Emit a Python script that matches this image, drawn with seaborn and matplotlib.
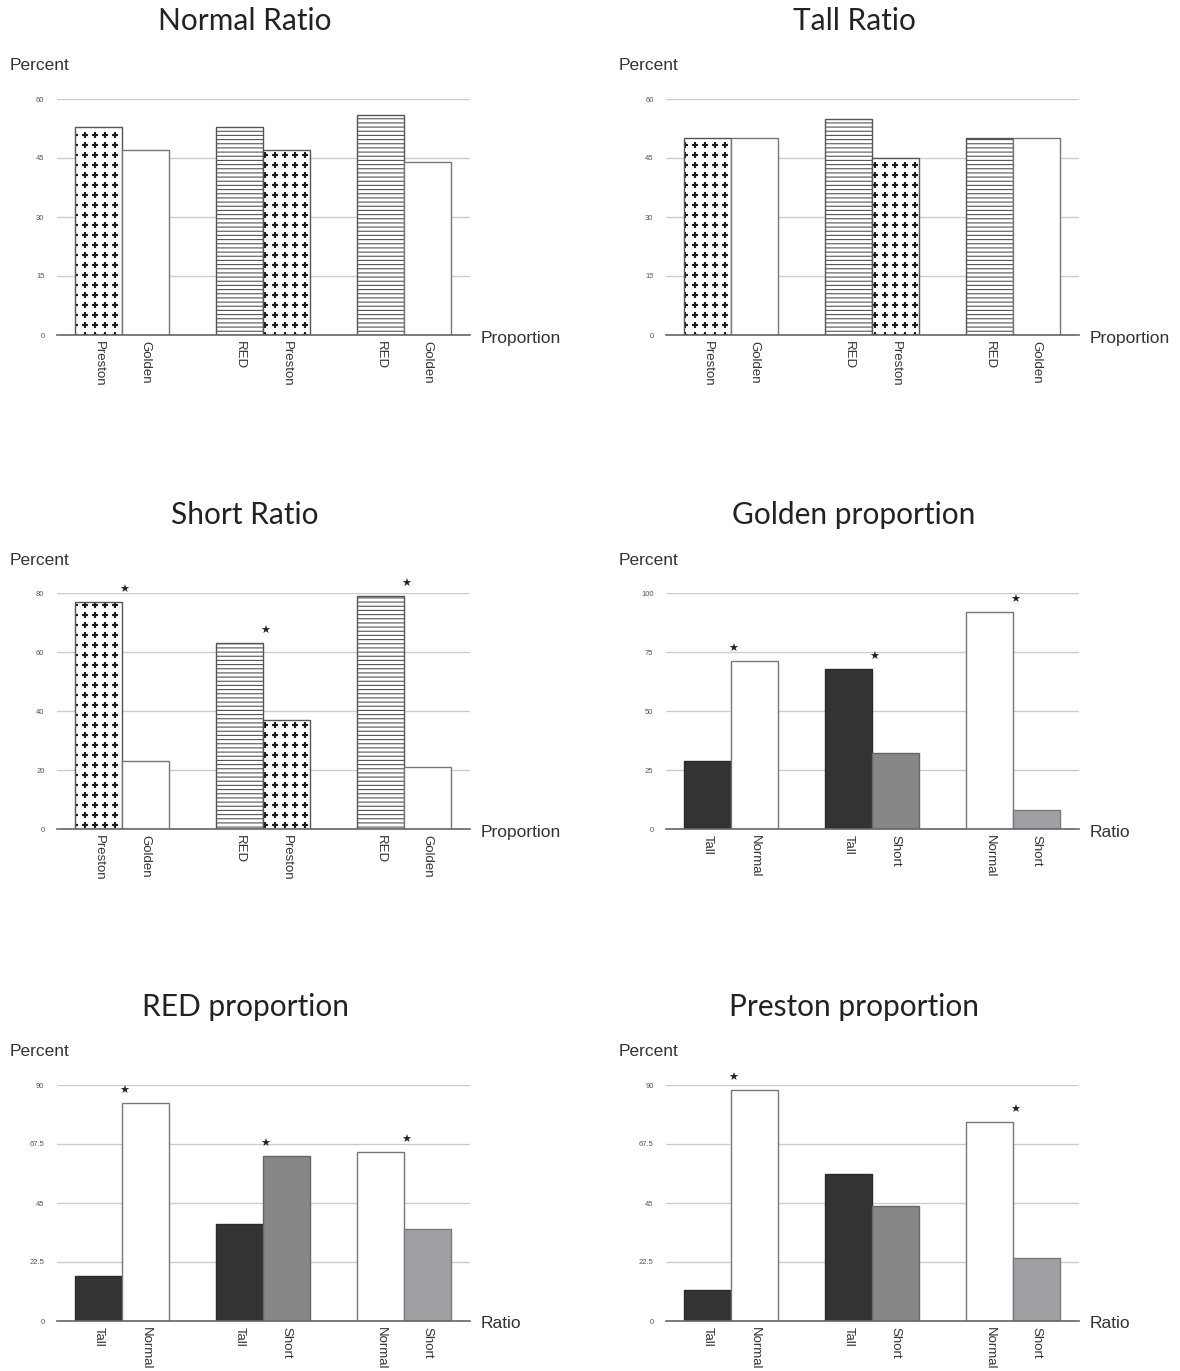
import numpy as np
import matplotlib
matplotlib.use("Agg")
import matplotlib.pyplot as plt
import matplotlib.hatch as mhatch
from matplotlib.path import Path
import seaborn as sns

# -----------------------------
# DATA
# -----------------------------
positions = [0, 1, 3, 4, 6, 7]

normal_labels = ["Preston", "Golden", "RED", "Preston", "RED", "Golden"]
normal_values = [53, 47, 53, 47, 56, 44]

tall_labels = ["Preston", "Golden", "RED", "Preston", "RED", "Golden"]
tall_values = [50, 50, 55, 45, 50, 50]

short_labels = ["Preston", "Golden", "RED", "Preston", "RED", "Golden"]
short_values = [77, 23, 63, 37, 79, 21]
short_stars = [True, True, True]

golden_labels = ["Tall", "Normal", "Tall", "Short", "Normal", "Short"]
golden_values = [29, 71, 68, 32, 92, 8]
golden_stars = [True, True, True]

red_labels = ["Tall", "Normal", "Tall", "Short", "Normal", "Short"]
red_values = [17, 83, 37, 63, 64.5, 35]
red_stars = [True, True, True]

preston_labels = ["Tall", "Normal", "Tall", "Short", "Normal", "Short"]
preston_values = [12, 88, 56, 44, 76, 24]
preston_stars = [True, False, True]


# -----------------------------
# plus-sign hatch (replaces the '*' star hatch)
# -----------------------------
class PlusHatch(mhatch.HatchPatternBase):
    def __init__(self, hatch, density):
        self.n = hatch.count('*') * 10
        a, b = 0.24, 0.05
        self.shape = np.array([(-b, -a), (b, -a), (b, -b), (a, -b), (a, b), (b, b),
                               (b, a), (-b, a), (-b, b), (-a, b), (-a, -b), (-b, -b),
                               (-b, -a)])
        self.num_vertices = self.n * self.n * len(self.shape)

    def set_vertices_and_codes(self, vertices, codes):
        n = self.n
        step = 1.0 / n
        verts = self.shape * step
        k = len(verts)
        c = 0
        for i in range(n):
            for j in range(n):
                vertices[c:c + k] = verts + [(i + 0.5) * step, (j + 0.5) * step]
                codes[c] = Path.MOVETO
                codes[c + 1:c + k - 1] = Path.LINETO
                codes[c + k - 1] = Path.CLOSEPOLY
                c += k


mhatch._hatch_types = [h for h in mhatch._hatch_types if h is not mhatch.Stars]
mhatch._hatch_types.append(PlusHatch)

sns.set_style("white")
plt.rcParams['font.family'] = ['Liberation Sans', 'DejaVu Sans']
plt.rcParams['hatch.linewidth'] = 0.8


def bar_style(label, i):
    # face, edge, hatch, hatch colour
    if label == "Preston":
        return "white", "#555555", "*", "#1a1a1a"
    if label == "RED":
        return "white", "#555555", "----", "#555555"
    if label in ("Golden", "Normal"):
        return "white", "#777777", None, None
    if label == "Tall":
        return "#333333", "#2a2a2a", None, None
    if label == "Short":
        if i >= 4:
            return "#a0a0a4", "#7a7a7a", None, None
        return "#87878a", "#666666", None, None
    return "white", "#777777", None, None


def draw_panel(ax, title, labels, values, ymax, yticks, xname, stars=None):
    sns.barplot(x=positions, y=values, native_scale=True, width=1,
                color="white", ax=ax, zorder=3)
    for i, patch in enumerate(ax.patches):
        face, edge, hatch, hcol = bar_style(labels[i], i)
        patch.set_facecolor(face)
        patch.set_edgecolor(edge)
        patch.set_linewidth(1.0)
        if hatch:
            patch.set_hatch(hatch)
            patch._hatch_color = matplotlib.colors.to_rgba(hcol)

    ax.set_xlim(-0.88, 7.9)
    ax.set_ylim(0, ymax)
    ax.set_yticks(yticks)
    ax.set_yticklabels([f"{t:g}" for t in yticks], fontsize=5.5, color="#555555")
    ax.set_xticks(positions)
    ax.set_xticklabels(labels, rotation=270, fontsize=9.5, color="#333333")
    ax.tick_params(axis="both", length=0)
    ax.tick_params(axis="y", pad=9)
    ax.tick_params(axis="x", pad=4)
    ax.grid(axis="y", color="#cccccc", linewidth=1)
    ax.set_axisbelow(True)
    for side in ["top", "right", "left"]:
        ax.spines[side].set_visible(False)
    ax.spines["bottom"].set_color("#666666")
    ax.spines["bottom"].set_linewidth(1.2)
    ax.spines["bottom"].set_zorder(4)
    ax.set_xlabel("")
    ax.set_ylabel("")

    ax.annotate(title, xy=(0, 1), xycoords="axes fraction", xytext=(188, 78),
                textcoords="offset pixels", ha="center", va="center",
                fontsize=21.5, family="Lato", color="#222222")
    ax.annotate("Percent", xy=(0, 1), xycoords="axes fraction", xytext=(-47, 33),
                textcoords="offset pixels", ha="left", va="center",
                fontsize=12.5, color="#333333")
    ax.annotate(xname, xy=(1, 0), xycoords="axes fraction", xytext=(11, -3),
                textcoords="offset pixels", ha="left", va="center",
                fontsize=12.5, color="#333333")

    if stars:
        for g, flag in enumerate(stars):
            if not flag:
                continue
            top = max(values[2 * g], values[2 * g + 1])
            ax.annotate("\u2605", xy=(positions[2 * g] + 0.55, top), xytext=(0, 7),
                        textcoords="offset pixels", ha="center", va="bottom",
                        fontsize=8, family="DejaVu Sans", color="#222222")


fig = plt.figure(figsize=(11.8, 13.71), dpi=100)

W, H = 1180, 1371
left_x = [57, 666]
base_y = [335, 829, 1321]
aw, ah = 413, 236

axes = []
for r in range(3):
    for c in range(2):
        axes.append(fig.add_axes([left_x[c] / W, 1 - base_y[r] / H, aw / W, ah / H]))

draw_panel(axes[0], "Normal Ratio", normal_labels, normal_values, 60, [0, 15, 30, 45, 60], "Proportion")
draw_panel(axes[1], "Tall Ratio", tall_labels, tall_values, 60, [0, 15, 30, 45, 60], "Proportion")
draw_panel(axes[2], "Short Ratio", short_labels, short_values, 80, [0, 20, 40, 60, 80], "Proportion", short_stars)
draw_panel(axes[3], "Golden proportion", golden_labels, golden_values, 100, [0, 25, 50, 75, 100], "Ratio", golden_stars)
draw_panel(axes[4], "RED proportion", red_labels, red_values, 90, [0, 22.5, 45, 67.5, 90], "Ratio", red_stars)
draw_panel(axes[5], "Preston proportion", preston_labels, preston_values, 90, [0, 22.5, 45, 67.5, 90], "Ratio", preston_stars)

fig.savefig("out.png", dpi=100, facecolor="white")
